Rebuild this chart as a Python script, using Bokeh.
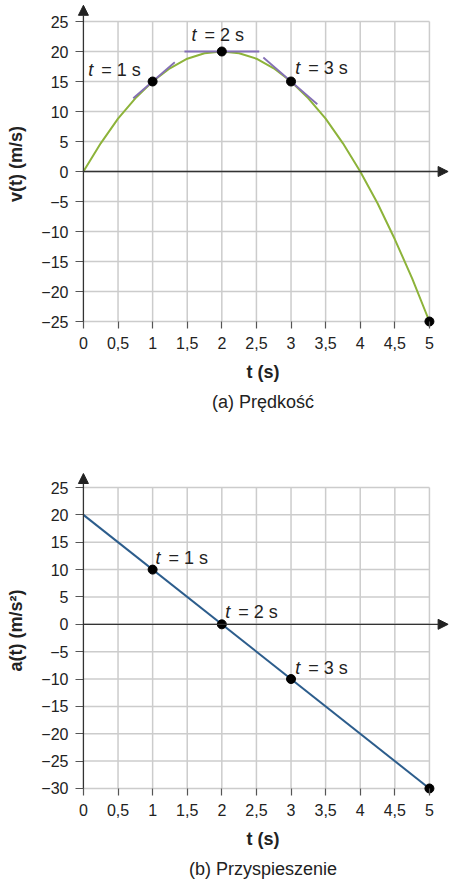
from bokeh.plotting import figure
from bokeh.models import Range1d, FixedTicker, Title, Arrow, NormalHead
from bokeh.layouts import column
from bokeh.core.properties import value
from bokeh.embed import file_html
from bokeh.resources import INLINE

FONT = "Liberation Sans"

# axes
x_ticks = [0, 0.5, 1, 1.5, 2, 2.5, 3, 3.5, 4, 4.5, 5]
x_tick_labels = ["0", "0,5", "1", "1,5", "2", "2,5", "3", "3,5", "4", "4,5", "5"]
v_ticks = [25, 20, 15, 10, 5, 0, -5, -10, -15, -20, -25]
a_ticks = [25, 20, 15, 10, 5, 0, -5, -10, -15, -20, -25, -30]

# (a) velocity curve
t_curve = [0, 0.25, 0.5, 0.75, 1, 1.25, 1.5, 1.75, 2, 2.25, 2.5,
           2.75, 3, 3.25, 3.5, 3.75, 4, 4.25, 4.5, 4.75, 5]
v_curve = [0, 4.7, 8.8, 12.2, 15, 17.2, 18.8, 19.7, 20, 19.7, 18.8,
           17.2, 15, 12.2, 8.8, 4.7, 0, -5.3, -11.3, -17.8, -25]
v_point_t = [1, 2, 3, 5]
v_point_v = [15, 20, 15, -25]

# tangents at t = 1, 2, 3 s
tan_t0 = [0.72, 1.46, 2.6]
tan_v0 = [12.2, 20, 19]
tan_t1 = [1.32, 2.54, 3.38]
tan_v1 = [18.2, 20, 11.2]

# (b) acceleration
a_line_t = [0, 5]
a_line_a = [20, -30]
a_point_t = [1, 2, 3, 5]
a_point_a = [10, 0, -10, -30]

# point labels
label_rest = ["=  1 s", "=  2 s", "=  3 s"]
v_label_t = [0.07, 1.56, 3.06]
v_label_v = [17, 22.7, 17.2]
a_label_t = [1.04, 2.05, 3.06]
a_label_a = [12.2, 2.2, -7.9]


def fmt(v):
    return str(v).replace("-", "\u2212")


def make_panel(y_ticks, y_range, height, bottom, ylabel, caption, arrow_top):
    y_min, y_max = min(y_ticks), max(y_ticks)
    p = figure(width=449, height=height, x_range=Range1d(-0.1, 5.29),
               y_range=Range1d(*y_range), output_backend="svg",
               toolbar_location=None, min_border_left=76, min_border_right=0,
               min_border_top=0, min_border_bottom=bottom)
    p.outline_line_color = None
    p.grid.visible = False

    # grid lines, only inside the 0..5 box
    p.segment(x0=x_ticks[1:], y0=[y_min] * 10, x1=x_ticks[1:], y1=[y_max] * 10,
              line_color="#cccccc", line_width=1.5)
    p.segment(x0=[0] * len(y_ticks), y0=y_ticks, x1=[5] * len(y_ticks), y1=y_ticks,
              line_color="#cccccc", line_width=1.5)

    xa = p.xaxis[0]
    xa.ticker = FixedTicker(ticks=x_ticks)
    xa.major_label_overrides = dict(zip(x_ticks, x_tick_labels))
    xa.bounds = (0, 5)
    xa.axis_line_color = None
    xa.major_tick_line_color = "#555555"
    xa.major_tick_line_width = 1.2
    xa.major_tick_out = 1
    xa.major_tick_in = 6
    xa.minor_tick_line_color = None
    xa.major_label_standoff = 8
    xa.major_label_text_font = FONT
    xa.major_label_text_font_size = "16px"
    xa.major_label_text_color = "#222222"
    xa.axis_label = "t (s)"
    xa.axis_label_text_font = FONT
    xa.axis_label_text_font_size = "18px"
    xa.axis_label_text_font_style = "bold"
    xa.axis_label_text_color = "#222222"
    xa.axis_label_standoff = 10

    ya = p.yaxis[0]
    ya.ticker = FixedTicker(ticks=y_ticks)
    ya.major_label_overrides = {t: fmt(t) for t in y_ticks}
    ya.bounds = (y_min, y_max)
    ya.axis_line_color = None
    ya.major_tick_line_color = "#555555"
    ya.major_tick_line_width = 1.2
    ya.major_tick_out = 1
    ya.major_tick_in = 7
    ya.minor_tick_line_color = None
    ya.major_label_standoff = 7
    ya.major_label_text_font = FONT
    ya.major_label_text_font_size = "16px"
    ya.major_label_text_color = "#222222"
    ya.axis_label = ylabel
    ya.axis_label_text_font = FONT
    ya.axis_label_text_font_size = "18px"
    ya.axis_label_text_font_style = "bold"
    ya.axis_label_text_color = "#222222"
    ya.axis_label_standoff = 12

    # axis lines with arrow heads
    p.add_layout(Arrow(end=NormalHead(size=10, fill_color="#222222", line_color="#222222"),
                       x_start=0, y_start=0, x_end=5.27, y_end=0,
                       line_color="#333333", line_width=1.3))
    p.add_layout(Arrow(end=NormalHead(size=10, fill_color="#222222", line_color="#222222"),
                       x_start=0, y_start=y_min, x_end=0, y_end=arrow_top,
                       line_color="#333333", line_width=1.3))

    p.add_layout(Title(text=caption, align="center", text_font=FONT,
                       text_font_size="18px", text_font_style="normal",
                       text_color="#222222", standoff=10), "below")
    return p


def add_labels(p, xs, ys):
    p.text(x=xs, y=ys, text=["t"] * 3, text_font=value(FONT), text_font_size="18px",
           text_font_style="italic", text_baseline="middle", text_color="#222222")
    p.text(x=xs, y=ys, text=label_rest, x_offset=13, text_font=value(FONT),
           text_font_size="18px", text_baseline="middle", text_color="#222222")


p1 = make_panel(v_ticks, (-26, 28.5), 466, 139, "v(t) (m/s)", "(a) Prędkość", 27.7)
p1.line(t_curve, v_curve, line_color="#8db33a", line_width=2)
p1.segment(x0=tan_t0, y0=tan_v0, x1=tan_t1, y1=tan_v1, line_color="#8470b5", line_width=1.8)
p1.scatter(v_point_t, v_point_v, size=9, color="black")
add_labels(p1, v_label_t, v_label_v)

p2 = make_panel(a_ticks, (-31.1, 28.84), 417, 89, "a(t) (m/s²)", "(b) Przyspieszenie", 27.56)
p2.line(a_line_t, a_line_a, line_color="#2c5d8c", line_width=2)
p2.scatter(a_point_t, a_point_a, size=9, color="black")
add_labels(p2, a_label_t, a_label_a)

p = column(p1, p2)

open("out.html", "w").write(file_html(p, INLINE))
